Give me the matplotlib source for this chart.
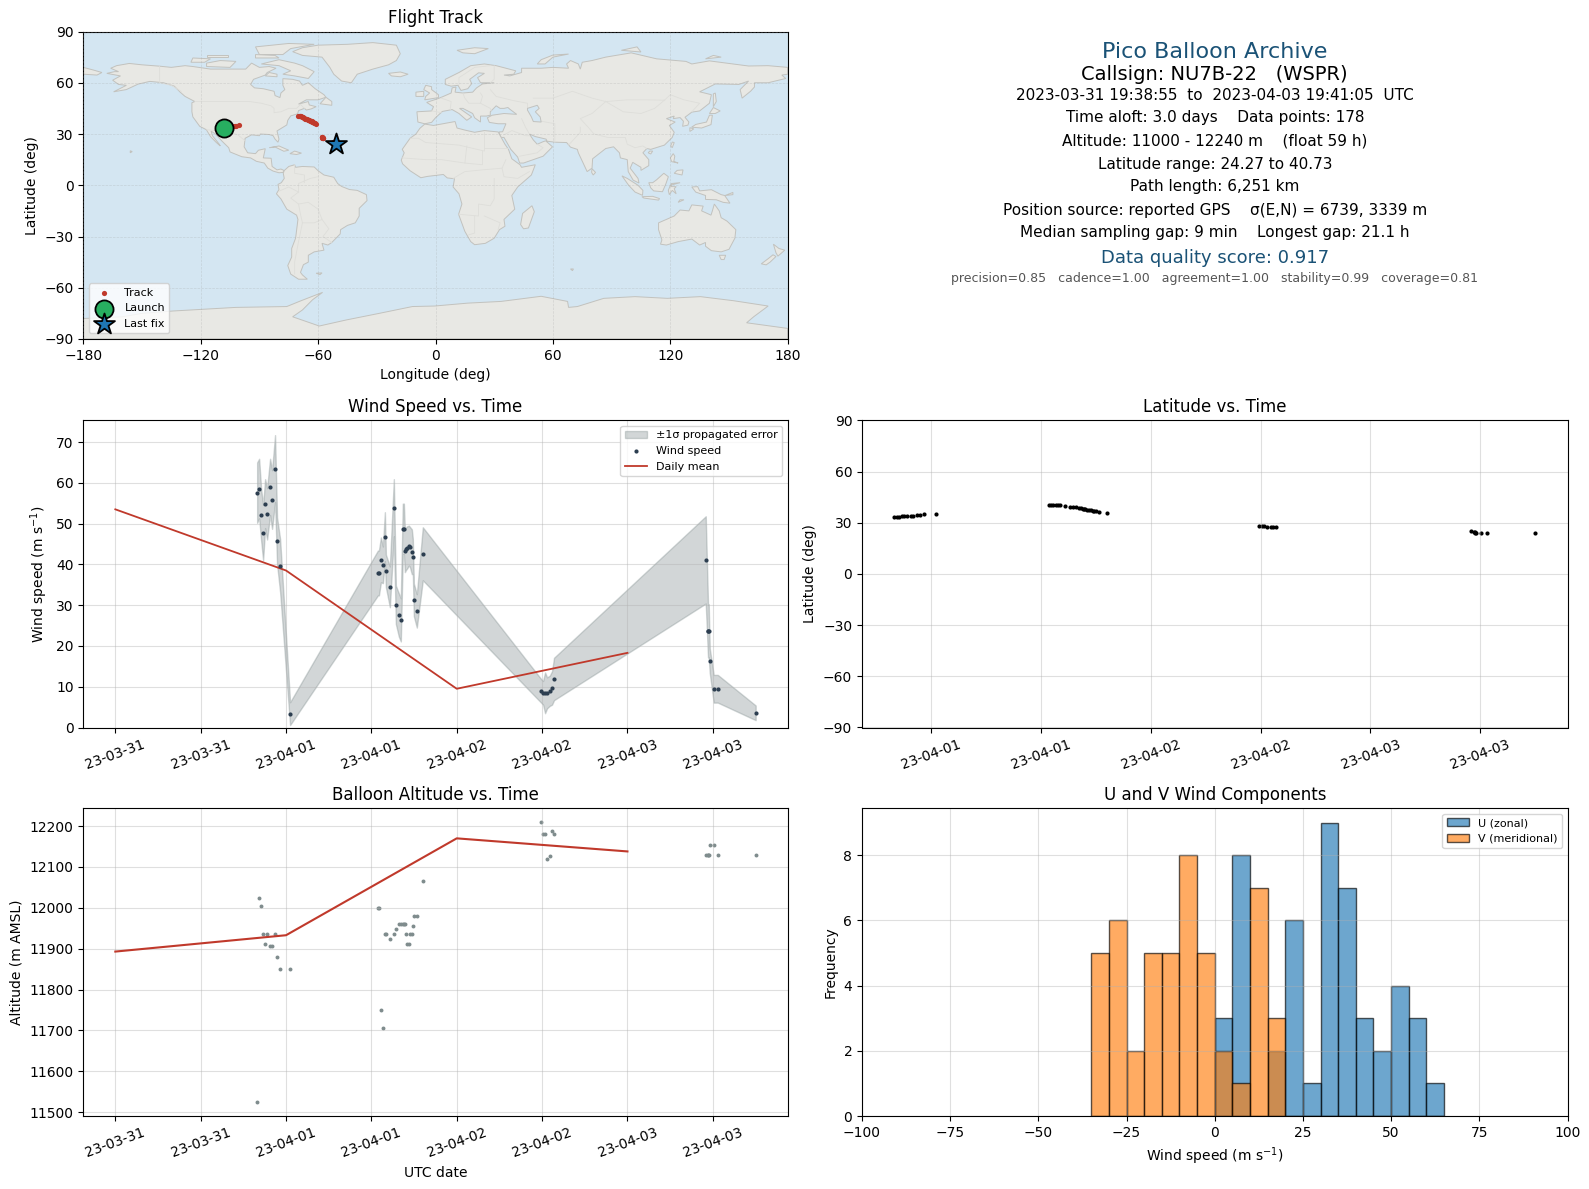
import datetime as dt
import matplotlib
matplotlib.use("Agg")
import matplotlib.pyplot as plt
import matplotlib.dates as mdates

# hours since 2023-03-31 00:00 UTC for the plotted fixes
hours = [19.94, 20.22, 20.50, 20.78, 21.06, 21.34, 21.76, 22.04, 22.46, 22.74, 23.17, 24.57,
         36.92, 37.06, 37.34, 37.62, 37.90, 38.04, 38.60, 39.16, 39.44, 39.86, 40.14, 40.42,
         40.57, 40.71, 40.85, 40.99, 41.27, 41.41, 41.69, 41.83, 41.97, 42.39, 43.23,
         59.86, 60.14, 60.42, 60.70, 61.08, 61.40, 61.68,
         83.01, 83.33, 83.38, 83.43, 83.57, 84.13, 84.70, 90.03]
wind_speed = [57.6, 58.6, 52.2, 47.8, 54.9, 52.4, 59.0, 55.9, 63.5, 45.8, 39.7, 3.4,
              37.9, 37.9, 41.1, 39.9, 46.8, 38.4, 34.5, 53.9, 30.1, 27.6, 26.4, 48.7,
              48.7, 43.3, 43.8, 44.1, 44.6, 44.3, 43.1, 41.9, 31.3, 28.6, 42.6,
              9.0, 8.5, 8.5, 8.5, 9.0, 9.7, 11.9,
              41.1, 23.7, 23.7, 23.7, 16.4, 9.5, 9.5, 3.6]
wind_sigma = [7.4, 7.3, 6.3, 6.8, 6.0, 6.3, 6.9, 7.2, 8.2, 5.7, 6.5, 2.8,
              5.5, 5.5, 5.5, 4.5, 6.0, 4.0, 5.0, 7.0, 4.7, 5.3, 5.3, 6.2,
              6.2, 5.2, 5.2, 5.2, 4.9, 4.9, 5.5, 4.3, 4.0, 4.1, 6.5,
              2.9, 2.9, 5.0, 3.8, 3.7, 4.1, 5.2,
              10.7, 6.5, 6.5, 6.5, 3.0, 3.4, 3.4, 1.8]
altitude = [11525, 12024, 12005, 11936, 11911, 11936, 11906, 11906, 11936, 11880, 11850, 11850,
            12000, 12000, 11750, 11705, 11936, 11936, 11924, 11936, 11948, 11960, 11960, 11960,
            11960, 11960, 11936, 11911, 11911, 11936, 11936, 11956, 11980, 11980, 12066,
            12210, 12181, 12181, 12120, 12127, 12189, 12181,
            12130, 12130, 12130, 12130, 12154, 12154, 12130, 12130]
latitude = [33.3, 33.4, 33.6, 33.8, 33.9, 34.0, 34.1, 34.1, 34.6, 34.8, 34.9, 35.3,
            40.73, 40.7, 40.5, 40.4, 40.3, 40.2, 39.9, 39.5, 39.3, 39.0, 38.8, 38.6,
            38.4, 38.2, 38.0, 37.8, 37.6, 37.4, 37.1, 36.9, 36.7, 36.5, 35.9,
            28.4, 28.3, 28.0, 27.7, 27.6, 27.6, 27.6,
            25.5, 24.9, 24.4, 24.2, 24.27, 24.27, 24.27, 24.27]
longitude = [-108.0, -107.5, -107.0, -106.4, -105.8, -105.2, -104.6, -104.0, -103.3, -102.6, -102.0, -100.5,
             -70.1, -69.9, -69.5, -69.2, -68.8, -68.4, -67.9, -67.4, -67.0, -66.5, -66.1, -65.7,
             -65.3, -64.9, -64.5, -64.1, -63.7, -63.3, -62.9, -62.5, -62.1, -61.7, -60.9,
             -58.2, -58.0, -57.9, -57.8, -57.7, -57.6, -57.5,
             -52.5, -52.3, -52.2, -52.0, -51.8, -51.6, -51.3, -51.0]

daily_hours = [0, 24, 48, 72]
daily_wind = [53.5, 38.5, 9.5, 18.3]
daily_alt = [11893, 11933, 12170, 12138]

hist_edges = list(range(-35, 65, 5))
u_counts = [0, 0, 0, 0, 0, 0, 0, 3, 8, 0, 2, 6, 1, 9, 7, 3, 2, 4, 3, 1]
v_counts = [5, 6, 2, 5, 5, 8, 5, 2, 1, 7, 3, 0, 0, 0, 0, 0, 0, 0, 0, 0]

# rough coastlines, (lon, lat)
north_america = [(-168, 65.5), (-164, 66.5), (-162, 66.5), (-166, 68.5), (-163, 70), (-156.5, 71.3), (-150, 70.5),
                 (-141, 69.7), (-135, 69), (-128, 70), (-124, 69.5), (-115, 68), (-110, 68), (-102, 68), (-97, 68),
                 (-94, 71.5), (-90, 69), (-85, 69.5), (-81.5, 68.5), (-86, 66), (-87, 64.5), (-93, 62), (-94.5, 59),
                 (-92.5, 57), (-88, 56.5), (-82.5, 55), (-82, 52.5), (-79.5, 51.3), (-79, 54), (-77, 56), (-78, 58.5),
                 (-78, 62.4), (-73, 62), (-69.5, 61), (-68, 58.5), (-65, 60), (-61.5, 56.5), (-57, 53), (-56, 51.5),
                 (-60, 50), (-66, 50), (-70, 47.5), (-65, 49), (-64.5, 47), (-61, 46), (-63.5, 44.7), (-66, 44),
                 (-67, 45), (-70, 43.7), (-70.5, 41.8), (-74, 40.6), (-75.5, 38), (-76, 35.3), (-78, 33.9), (-81, 31.8),
                 (-80, 27), (-80.5, 25.2), (-82, 27), (-83, 29), (-85, 29.7), (-89.5, 30), (-90, 29), (-94, 29.5),
                 (-97.3, 27.5), (-97.8, 22.5), (-96, 19), (-92, 18.5), (-90.5, 20.5), (-87, 21.4), (-88, 16), (-84, 15.8),
                 (-83.5, 11), (-81, 9), (-79, 9.5), (-77.3, 8.6), (-78, 7.5), (-80, 7.3), (-83, 8.3), (-85.7, 10),
                 (-87.5, 13), (-91.5, 14), (-94.5, 16), (-99, 16.7), (-105, 19.5), (-105.7, 22), (-109, 25.7),
                 (-112.5, 30), (-114.7, 31.7), (-114, 29), (-110.5, 24), (-110, 23), (-112, 25), (-115, 28.5),
                 (-117.1, 32.5), (-120.5, 34.5), (-124, 40), (-124.5, 43), (-124.5, 48.3), (-123, 49), (-128, 52),
                 (-130.5, 54.5), (-133.5, 58), (-139, 60), (-146, 60.8), (-152, 59.2), (-158, 56), (-164.5, 54.7),
                 (-158, 58.5), (-162, 59), (-165, 61.5), (-161, 64)]
south_america = [(-77.3, 8.6), (-75, 11), (-72, 12), (-71.5, 10.5), (-68, 11), (-62, 10.7), (-60, 8.5), (-57, 6),
                 (-52, 4.7), (-50, 1), (-48, -0.7), (-44, -2.5), (-40, -3), (-35.3, -5.5), (-35, -9), (-39, -13.5),
                 (-39, -18), (-41, -22), (-45, -23.5), (-48.5, -26), (-48.7, -28.5), (-53, -33.5), (-55, -35), (-58, -34),
                 (-57, -38), (-62, -39), (-65, -41), (-65, -45), (-67.5, -46.5), (-69, -51), (-68, -52.5), (-65.5, -55),
                 (-70, -55), (-74, -52), (-75.5, -47), (-73.5, -42), (-73.5, -37), (-71.5, -31), (-70.3, -20), (-71, -17.5),
                 (-76, -14), (-79, -8), (-81.3, -5), (-80, -2.5), (-80.5, 0.5), (-78.8, 1.5), (-77.3, 4), (-77.8, 7)]
greenland = [(-73, 78.2), (-68, 80.5), (-60, 82), (-45, 82.5), (-32, 83.5), (-20, 82), (-18, 77), (-20, 73), (-24, 70.5),
             (-32, 68), (-40, 65), (-43, 60), (-48, 61), (-52, 65), (-54, 69), (-58, 75), (-68, 76)]
eurasia = [(-9, 37), (-9.5, 43), (-2, 43.5), (-1, 46), (-4.5, 48.5), (1.5, 50.8), (4, 52), (8, 54), (8.5, 57), (10.5, 57.5),
           (10, 54.5), (14, 54), (19, 54.5), (21, 57), (24, 59.3), (30, 60), (23, 60), (21.5, 63), (25, 65.5), (22, 65.8),
           (17.5, 62), (18.5, 59.5), (16.5, 56.5), (13, 55.5), (11.5, 58.5), (8, 58), (5, 59), (5, 62), (12, 66), (18, 70),
           (25, 71), (31, 70), (41, 67), (40, 65), (35, 64.5), (38, 64), (44, 66), (44, 68.5), (54, 68.5), (60, 69), (68, 68.5),
           (67, 71), (69, 73), (73, 71), (74, 68), (75, 72), (80, 73), (87, 75), (100, 77.5), (113, 74), (128, 72.5), (131, 71),
           (140, 72.8), (160, 69.8), (170, 70), (180, 69), (180, 65), (177, 64.5), (179, 62.5), (170, 60), (163, 60), (163, 57.5),
           (161, 55), (156.7, 51), (155.7, 56), (160, 61), (155, 59), (143, 59.3), (135, 54.7), (141, 53), (140, 48), (135, 43.5),
           (131, 42.8), (127.5, 39.8), (129.5, 37), (129, 35.2), (126.3, 34.5), (126.7, 37.5), (125, 39.6), (121.5, 39), (122, 40.5),
           (118, 39), (122.5, 37), (119.5, 35), (122, 31), (121, 28), (117, 23.5), (110, 21), (108, 21.5), (106, 19), (109, 15),
           (109, 11.5), (105, 8.7), (105, 10.5), (100.8, 13.4), (99.5, 10), (103.5, 4), (104, 1.3), (101, 3), (98.5, 8), (98, 15),
           (94.5, 16), (94, 19), (91, 22.5), (87, 21.5), (80.3, 15.5), (80, 10), (77.5, 8), (73, 19), (72.5, 21), (69, 22.3),
           (67, 25), (61, 25.2), (57, 25.8), (56.5, 27), (51, 28.5), (48, 30), (50, 26.5), (52, 24), (55, 25.5), (56.3, 26),
           (59.8, 22.5), (55, 17), (45, 13), (43, 13), (42, 16.5), (38.5, 21), (35, 28), (33.5, 28), (32.7, 30), (32.5, 31.2),
           (34.3, 31.3), (36, 36), (32, 36), (27.5, 36.8), (26.5, 39.5), (29, 41), (35, 42), (41.5, 41.5), (38, 44.5), (37, 45.5),
           (35, 45), (33, 45), (31, 46.5), (28, 43), (28, 41), (26, 40.5), (23, 40.5), (23, 37), (20, 39.5), (19, 42), (14, 45),
           (12.3, 45), (16, 42), (18.5, 40), (16, 38), (12, 42), (8.5, 44.3), (3.5, 43.2), (0, 39.5), (-2, 36.8), (-5.5, 36)]
africa = [(-5.5, 35.8), (-1, 35), (10, 37.3), (11, 33.5), (15, 32.3), (20, 31), (25, 32), (32, 31.2), (32.6, 30), (35.5, 24),
          (37.3, 21), (39, 15.5), (43.2, 12), (44, 10.5), (51, 12), (49, 6), (42, -1), (39, -6), (40.5, -14), (35, -20),
          (35.5, -24), (32.7, -26), (30, -31), (25.5, -34), (20, -34.8), (18, -33), (15, -27), (11.8, -17), (13.5, -11),
          (12, -5), (9, -1), (9.7, 3.8), (6, 4.3), (4, 6.3), (-4, 5.2), (-7.5, 4.4), (-13, 8.5), (-16.8, 12.5), (-17.5, 14.7),
          (-16, 19), (-17, 21), (-13, 27.5), (-10, 30), (-8, 33.3)]
australia = [(114, -22), (114, -26), (115.7, -32), (115, -34.5), (118, -35), (124, -33), (131, -31.5), (135, -35), (138, -33.5),
             (138, -35.7), (141, -38.3), (146, -39), (150, -37.5), (153, -31), (153.5, -26), (149, -21), (146, -19), (145, -15),
             (142.5, -11), (141.5, -15), (140.8, -17.5), (136, -15), (136.8, -12.2), (131, -11.5), (129.5, -15), (125, -14.5), (122, -18)]
antarctica = [(-180, -78), (-160, -77), (-150, -75), (-134, -73.6), (-102, -71.5), (-76, -71), (-69.6, -68), (-57.7, -62.7),
              (-62.8, -67), (-68, -73), (-73, -77), (-59.4, -82.4), (-45.8, -78.9), (-28.8, -75), (-11.8, -71), (-0.5, -70.7),
              (16.5, -69), (33.5, -68), (54, -65), (67.5, -68), (68, -71.5), (72.5, -71), (86, -66.2), (102, -65.2), (118.5, -66.2),
              (135.4, -65.2), (152.4, -67.6), (170, -70.7), (162.6, -77), (159, -80.5), (180, -83.8), (180, -90), (-180, -90)]
chukotka = [(-180, 69), (-175, 67.5), (-170.5, 66), (-173, 64.5), (-180, 65)]
islands = [
    [(-80, 73.5), (-72, 71.5), (-68, 70), (-62, 66.5), (-65, 62.5), (-72, 64), (-78, 65), (-74, 67), (-80, 70), (-89, 71)],
    [(-117, 69.5), (-105, 69), (-102, 72.5), (-110, 73), (-117, 71.5)],
    [(-90, 76.5), (-78, 76.5), (-74, 80), (-62, 82.5), (-75, 83), (-92, 81)],
    [(-125, 72), (-118, 72), (-115, 74), (-124, 74.5)],
    [(-92, 74.5), (-80, 74.5), (-82, 76), (-92, 76.5)],
    [(-117, 75), (-106, 75), (-106, 76.5), (-117, 76.5)],
    [(-87, 64), (-81, 63.5), (-81, 65), (-85, 66)],
    [(-59, 47.7), (-53, 46.8), (-53, 49), (-56, 51.5)],
    [(-84.8, 22), (-80, 23), (-75, 20.5), (-77.5, 19.9), (-82, 22.4)],
    [(-74.4, 18.5), (-72, 20), (-68.5, 18.8), (-71, 18)],
    [(-156, 19), (-155, 19.7), (-156, 20.2)],
    [(-61, -51.5), (-58, -51.3), (-59, -52.3)],
    [(-5.5, 50), (1.5, 51.3), (1.5, 53), (-2, 56), (-2, 57.7), (-5, 58.5), (-6, 56), (-3, 54), (-5, 52)],
    [(-10, 52), (-6, 52), (-6, 55), (-10, 54.5)],
    [(-24, 65.5), (-18, 66.3), (-14, 65), (-18, 63.5), (-22.5, 64)],
    [(11, 79), (20, 80.5), (27, 80), (20, 77), (14, 77.5)],
    [(52, 71), (56, 71), (60, 75), (68, 76.8), (60, 76.2), (54, 73.5)],
    [(95, 79), (105, 78), (103, 81)],
    [(138, 74), (146, 75), (142, 76)],
    [(142, 46), (143.5, 49), (143, 54), (142, 53.5)],
    [(130.9, 34), (136, 33.5), (140.8, 35.5), (141.5, 41), (140, 41), (138.5, 37), (133, 35.6)],
    [(140, 42), (143, 42), (145.5, 43.5), (142, 45.5)],
    [(130, 31.5), (132, 33), (130, 33.7)],
    [(120.2, 23), (121, 22), (122, 25), (121, 25.3)],
    [(108.7, 19), (110, 18.3), (111, 20), (109.5, 20)],
    [(120, 16), (121.5, 18.5), (122.3, 17), (121.8, 14), (124, 13), (120.7, 13.8)],
    [(122, 7), (126, 6), (126.5, 9), (123.5, 8.7)],
    [(80, 9.7), (81.8, 7.5), (80.6, 6), (79.8, 7.5)],
    [(95.3, 5.5), (98, 4), (103.5, 0), (106, -3), (105.8, -5.9), (102, -4), (98.7, 0)],
    [(105.5, -6.7), (111, -6.5), (114.5, -7.8), (114, -8.7), (106.5, -7.5)],
    [(109, 1.5), (111, 1.5), (113, 3.2), (116.7, 7), (119, 5), (117.8, 1), (116, -3.8), (111.5, -3.3), (110, -1.5)],
    [(119.5, -5.5), (121, -3), (123, -5), (122, -2), (123, -0.8), (120.5, -0.8), (120.5, 1), (125, 1.5), (120, 0), (119, -3)],
    [(131, -1), (134, -0.8), (135, -3.3), (141, -2.6), (146, -5.5), (147.8, -6), (150.5, -10.5), (147, -10), (143.5, -8.5),
     (138, -8.3), (138, -6), (133, -4)],
    [(124, -10), (127, -8.5), (125, -8.5)],
    [(148, -6), (152, -4.2), (152, -5.5)],
    [(145, -41), (148.3, -41), (147.5, -43.5), (146, -43.5)],
    [(172.7, -34.5), (175.5, -37), (178.5, -38), (175, -41.5), (174, -39.5)],
    [(172.5, -40.7), (174, -41.7), (171, -45), (169, -46.6), (166.5, -46), (170, -43)],
    [(49.3, -12), (50.5, -15.5), (47.5, -25), (45, -25.5), (43.5, -23), (44.5, -16.5)],
    [(69, -49), (70.5, -49), (70, -50)],
]
caspian = [(47, 45), (52, 46.8), (53, 45), (51, 43), (53.5, 40), (54, 37), (50, 37.3), (49, 40), (47, 44)]
borders = [
    [(-123, 49), (-95, 49), (-89, 48), (-84, 46.5), (-82.5, 45), (-82.5, 42.5), (-79, 43), (-75, 45), (-71, 45), (-69, 47.3), (-67, 45)],
    [(-141, 69.7), (-141, 60), (-135, 58.5), (-130, 55)],
    [(-117, 32.5), (-108, 31.5), (-106.5, 31.7), (-101, 29.5), (-97.2, 25.9)],
    [(-60, 5), (-64, 4), (-70, 1), (-70, -4), (-74, -7.5), (-70, -11), (-65, -10), (-60, -14), (-58, -20), (-54.5, -25.5), (-57.5, -30), (-53, -33.5)],
    [(-68, -22), (-70, -33), (-72, -45), (-72, -52)],
    [(-70, -11), (-69, -17), (-68, -22), (-62, -22), (-58, -20)],
    [(-72, 12), (-72, 7), (-67, 6), (-67, 1.5)],
    [(-80, -3.5), (-75, -1), (-70, -4)],
    [(-13, 27.5), (-8.7, 27.5), (-5, 25), (12, 23.5), (25, 20), (25, 31)],
    [(25, 22), (37, 22)],
    [(16, 23), (15, 13), (24, 12), (24, 20)],
    [(-17, 16), (-5, 15), (3, 15), (15, 13)],
    [(9, 4), (15, 8), (24, 9), (34, 10), (36, 15)],
    [(34, 10), (35, 5), (42, 4), (48, 8)],
    [(30, 4), (30, -8), (28, -12), (22, -11), (22, -18), (12, -17)],
    [(20, -18), (20, -28), (17, -29)],
    [(25, -18), (33, -22), (32, -26)],
    [(28, 56), (31, 52), (40, 49.5), (47, 48), (47, 45)],
    [(50, 51), (60, 51), (70, 55), (80, 51), (87, 49), (98, 50), (107, 50), (117, 49.8), (120, 53), (127, 50), (135, 48), (131, 43)],
    [(87, 49), (80, 42), (74, 39), (78, 34), (81, 30), (88, 28), (97, 28), (98, 24), (102, 22), (106, 23), (108, 21.5)],
    [(87, 49), (96, 43), (105, 42), (112, 45), (117, 49.8)],
    [(44, 39), (46, 34), (48, 30)],
    [(61, 25.2), (61, 31), (61, 36), (54, 37.5)],
    [(74, 34), (74, 31), (70, 26), (68, 23.5)],
    [(35, 29.5), (39, 32), (46, 29), (48, 29)],
    [(43, 17), (52, 19), (55, 22), (52, 24)],
    [(-2, 43.5), (3, 42.5)],
    [(3, 51), (8, 49), (7.5, 44)],
    [(14, 54), (15, 51), (17, 48), (23, 48), (24, 52), (23, 54)],
    [(23, 48), (28, 45), (28.5, 43.5)],
    [(12, 59), (12, 63), (20, 69), (28, 70)],
    [(30, 70), (30, 62), (28, 60)],
]
land_shapes = [north_america, south_america, greenland, eurasia, africa, australia, antarctica, chukotka] + islands

header_lines = [
    ("Pico Balloon Archive", 52, 16, "#1a5276"),
    ("Callsign: NU7B-22   (WSPR)", 74.5, 14, "black"),
    ("2023-03-31 19:38:55  to  2023-04-03 19:41:05  UTC", 95.3, 11, "black"),
    ("Time aloft: 3.0 days    Data points: 178", 117.8, 11, "black"),
    ("Altitude: 11000 - 12240 m    (float 59 h)", 141, 11, "black"),
    ("Latitude range: 24.27 to 40.73", 164, 11, "black"),
    ("Path length: 6,251 km", 187, 11, "black"),
    ("Position source: reported GPS    \u03c3(E,N) = 6739, 3339 m", 210, 11, "black"),
    ("Median sampling gap: 9 min    Longest gap: 21.1 h", 233, 11, "black"),
    ("Data quality score: 0.917", 257.7, 13, "#1a5276"),
    ("precision=0.85   cadence=1.00   agreement=1.00   stability=0.99   coverage=0.81", 278.7, 9, "#555555"),
]

W, H = 1589, 1189
RED = "#c0392b"
start = dt.datetime(2023, 3, 31)
times = [start + dt.timedelta(hours=h) for h in hours]
daily_times = [start + dt.timedelta(hours=h) for h in daily_hours]

fig = plt.figure(figsize=(W / 100, H / 100), dpi=100)


def axes_px(left, top, right, bottom):
    return fig.add_axes([left / W, 1 - bottom / H, (right - left) / W, (bottom - top) / H])


def date_axis(ax):
    ax.xaxis.set_major_locator(mdates.HourLocator(byhour=[0, 12]))
    ax.xaxis.set_major_formatter(mdates.DateFormatter("%y-%m-%d"))
    ax.tick_params(axis="x", labelrotation=20)
    ax.grid(True, alpha=0.4)


LX0, LX1, RX0, RX1 = 83.3, 787.7, 862, 1567.5

# flight track map
ax_map = axes_px(LX0, 31.5, LX1, 339)
ax_map.set_facecolor("#d4e6f2")
for shape in land_shapes:
    ax_map.fill(*zip(*shape), facecolor="#e8e8e4", edgecolor="#c2c2be", linewidth=0.7, zorder=1)
for line in borders:
    ax_map.plot(*zip(*line), color="#dedeDa", linewidth=0.6, zorder=1.2)
ax_map.fill(*zip(*caspian), facecolor="#d4e6f2", edgecolor="#c2c2be", linewidth=0.7, zorder=1.3)
ax_map.scatter(longitude, latitude, s=14, color=RED, linewidths=0, zorder=3, label="Track")
ax_map.scatter(longitude[0], latitude[0], s=170, color="#27ae60", edgecolors="black", linewidths=1.3, zorder=4, label="Launch")
ax_map.scatter(longitude[-1], latitude[-1], s=250, marker="*", color="#1f77b4", edgecolors="black", linewidths=1.3, zorder=4, label="Last fix")
ax_map.set_xlim(-180, 180)
ax_map.set_ylim(-90, 90)
ax_map.set_xticks(range(-180, 181, 60))
ax_map.set_yticks(range(-90, 91, 30))
ax_map.grid(True, linestyle="--", linewidth=0.5, alpha=0.3, color="#a0a0a0")
ax_map.set_axisbelow(False)
ax_map.set_xlabel("Longitude (deg)")
ax_map.set_ylabel("Latitude (deg)")
ax_map.set_title("Flight Track")
ax_map.legend(loc="lower left", fontsize=8)

# summary text
center = (RX0 + RX1) / 2
for text, ypx, size, color in header_lines:
    fig.text(center / W, 1 - ypx / H, text, fontsize=size, color=color, ha="center", va="center")

# wind speed
ax_wind = axes_px(LX0, 420.5, LX1, 727.5)
upper = [v + s for v, s in zip(wind_speed, wind_sigma)]
lower = [v - s for v, s in zip(wind_speed, wind_sigma)]
ax_wind.fill_between(times, lower, upper, color="#7f8c8d", alpha=0.35, label="\u00b11\u03c3 propagated error")
ax_wind.scatter(times, wind_speed, s=9, color="#2c3e50", linewidths=0, zorder=3, label="Wind speed")
ax_wind.plot(daily_times, daily_wind, color=RED, linewidth=1.3, label="Daily mean")
ax_wind.set_ylim(0, max(upper) * 1.05)
date_axis(ax_wind)
ax_wind.set_ylabel("Wind speed (m s$^{-1}$)")
ax_wind.set_title("Wind Speed vs. Time")
ax_wind.legend(loc="upper right", fontsize=8)

# latitude
ax_lat = axes_px(RX0, 420.5, RX1, 727.5)
ax_lat.scatter(times, latitude, s=9, color="black", linewidths=0)
ax_lat.set_ylim(-90, 90)
ax_lat.set_yticks(range(-90, 91, 30))
date_axis(ax_lat)
ax_lat.set_ylabel("Latitude (deg)")
ax_lat.set_title("Latitude vs. Time")

# altitude
ax_alt = axes_px(LX0, 808, LX1, 1116)
ax_alt.scatter(times, altitude, s=8, color="#7f8c8d", linewidths=0)
ax_alt.plot(daily_times, daily_alt, color=RED, linewidth=1.5)
date_axis(ax_alt)
ax_alt.set_xlabel("UTC date")
ax_alt.set_ylabel("Altitude (m AMSL)")
ax_alt.set_title("Balloon Altitude vs. Time")

# u and v histogram
ax_hist = axes_px(RX0, 808, RX1, 1116)
ax_hist.bar(hist_edges, u_counts, width=5, align="edge", color="#1f77b4", alpha=0.65, edgecolor="black", label="U (zonal)")
ax_hist.bar(hist_edges, v_counts, width=5, align="edge", color="#ff7f0e", alpha=0.65, edgecolor="black", label="V (meridional)")
ax_hist.set_xlim(-100, 100)
ax_hist.grid(True, alpha=0.4)
ax_hist.set_xlabel("Wind speed (m s$^{-1}$)")
ax_hist.set_ylabel("Frequency")
ax_hist.set_title("U and V Wind Components")
ax_hist.legend(loc="upper right", fontsize=8)

fig.savefig("out.png", dpi=100)
